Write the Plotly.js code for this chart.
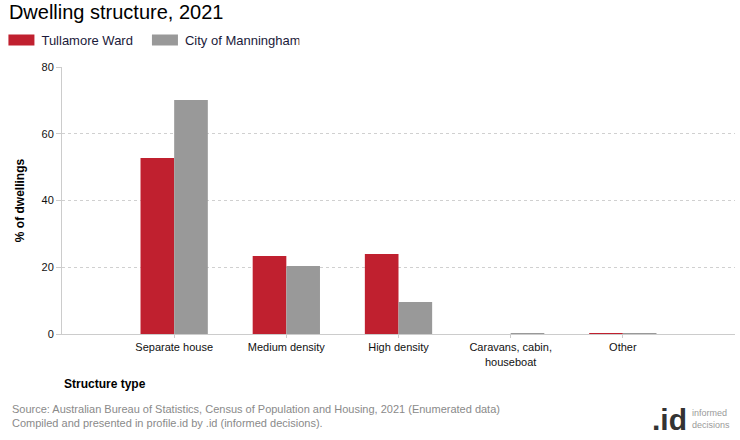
<!DOCTYPE html>
<html>
<head>
<meta charset="utf-8">
<script src="https://cdn.plot.ly/plotly-3.0.1.min.js"></script>
<style>html,body{margin:0;padding:0;background:#fff;}#chart{width:740px;height:440px;}</style>
</head>
<body>
<div id="chart"></div>
<script>
const categories = ["Separate house", "Medium density", "High density", "Caravans, cabin,<br>houseboat", "Other"];
const tullamore = [52.7, 23.4, 24.0, 0.0, 0.3];
const manningham = [70.1, 20.4, 9.6, 0.3, 0.3];
const seriesNames = ["Tullamore Ward", "City of Manningham"];
const yTicks = [0, 20, 40, 60, 80];

const font = "Arial, 'Liberation Sans', sans-serif";

const traces = [
  {type: "bar", x: categories, y: tullamore, name: seriesNames[0], marker: {color: "#c0202f"}, hoverinfo: "none"},
  {type: "bar", x: categories, y: manningham, name: seriesNames[1], marker: {color: "#999999"}, hoverinfo: "none"}
];

const layout = {
  width: 740, height: 440,
  margin: {l: 62, r: 5, t: 67, b: 106, autoexpand: false},
  paper_bgcolor: "#fff", plot_bgcolor: "#fff",
  font: {family: font, size: 11, color: "#222"},
  title: {text: "Dwelling structure, 2021", x: 0.012, xanchor: "left", y: 0.972, yanchor: "middle",
          font: {family: font, size: 20, color: "#000"}},
  barmode: "group", bargap: 0.4, bargroupgap: 0,
  showlegend: true,
  legend: {orientation: "h", x: -0.09, xanchor: "left", y: 1.101, yanchor: "middle",
           font: {family: font, size: 13, color: "#1a1a3a"}, traceorder: "normal"},
  xaxis: {
    type: "category", range: [-1, 5], showgrid: false, automargin: false,
    showline: true, linecolor: "#cccccc", linewidth: 1,
    ticks: "outside", ticklen: 3, tickcolor: "#cccccc",
    tickfont: {family: font, size: 11, color: "#111"},
    title: {text: "Structure type", font: {family: font, size: 12, color: "#000", weight: "bold"}, standoff: 13},
    fixedrange: true
  },
  yaxis: {
    range: [0, 80], tickvals: yTicks, ticktext: yTicks.map(String), automargin: false,
    showgrid: true, gridcolor: "#d0d0d0", griddash: "3px,3px", gridwidth: 1,
    showline: true, linecolor: "#cccccc", linewidth: 1,
    ticks: "outside", ticklen: 5, tickcolor: "#cccccc",
    zeroline: false,
    tickfont: {family: font, size: 11, color: "#111"},
    title: {text: "% of dwellings", font: {family: font, size: 12, color: "#000", weight: "bold"}, standoff: 14},
    fixedrange: true
  },
  annotations: [
    {xref: "paper", yref: "paper", x: -0.0773, y: -0.252, xanchor: "left", yanchor: "top", align: "left", showarrow: false,
     text: "Source: Australian Bureau of Statistics, Census of Population and Housing, 2021 (Enumerated data)<br>Compiled and presented in profile.id by .id (informed decisions).",
     font: {family: font, size: 11, color: "#8a8a8a"}},
    {xref: "paper", yref: "paper", x: 0.932, y: -0.32, xanchor: "right", yanchor: "middle", showarrow: false,
     text: "<b>.id</b>", font: {family: font, size: 30, color: "#333"}},
    {xref: "paper", yref: "paper", x: 0.933, y: -0.32, xanchor: "left", yanchor: "middle", align: "left", showarrow: false,
     text: "informed<br>decisions", font: {family: font, size: 9, color: "#9a9a9a"}}
  ]
};

Plotly.newPlot("chart", traces, layout, {displayModeBar: false, staticPlot: true}).then(function(){
  const t = document.querySelector(".xtitle");
  if (t) { t.setAttribute("text-anchor", "start"); t.setAttribute("x", 64); }
  // widen legend swatches to match the reference's rectangular keys
  document.querySelectorAll(".legend .legendpoints path").forEach(function(p){
    p.setAttribute("d", "M-13,5.5H13V-5.5H-13Z");
  });
  // spread legend entries slightly, as in the reference
  const items = document.querySelectorAll(".legend .traces");
  items.forEach(function(g, i){
    if (i === 0) return;
    const tr = g.getAttribute("transform") || "";
    const m = tr.match(/translate\(\s*([-\d.]+)[ ,]+([-\d.]+)\s*\)/);
    if (m) g.setAttribute("transform", "translate(" + (parseFloat(m[1]) + 7 * i) + "," + m[2] + ")");
  });
});
</script>
</body>
</html>
